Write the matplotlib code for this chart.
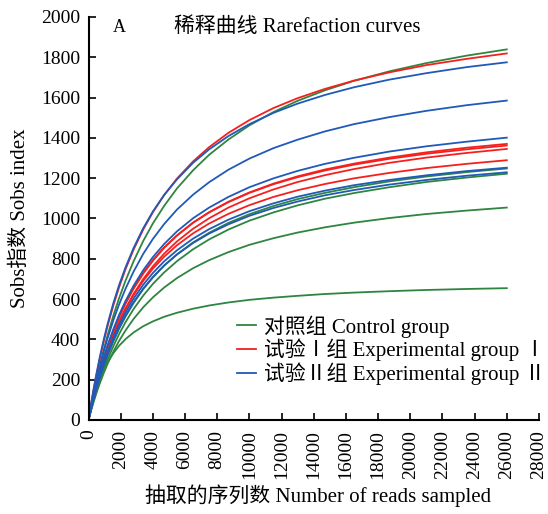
import matplotlib
matplotlib.use("Agg")
import matplotlib.pyplot as plt

plt.rcParams['font.family'] = ['Liberation Serif', 'Noto Sans CJK SC', 'DejaVu Sans']

# reads sampled (x) where curve values were read
reads = [0, 150, 300, 500, 700, 950, 1200, 1550, 1900, 2300, 2800, 3400, 4000, 4700,
         5500, 6500, 7500, 8700, 10000, 11500, 13000, 14700, 16500, 18700, 21000, 23500, 26000]

# control group (green)
control = [
    [0, 64, 124, 199, 269, 350, 424, 519, 604, 691, 787, 888, 975, 1062, 1149, 1239, 1316, 1392, 1462, 1528, 1584, 1636, 1683, 1730, 1771, 1808, 1839],
    [0, 50, 97, 154, 207, 267, 322, 391, 452, 513, 580, 649, 707, 766, 822, 881, 929, 978, 1021, 1062, 1096, 1127, 1155, 1184, 1208, 1230, 1248],
    [0, 46, 90, 143, 193, 250, 302, 367, 426, 485, 550, 617, 675, 732, 788, 847, 896, 945, 989, 1030, 1065, 1098, 1126, 1155, 1181, 1203, 1222],
    [0, 44, 85, 135, 181, 233, 281, 340, 392, 444, 501, 559, 608, 657, 704, 753, 793, 833, 869, 902, 930, 956, 979, 1002, 1022, 1039, 1054],
    [0, 56, 105, 158, 203, 250, 288, 332, 368, 401, 434, 465, 489, 512, 532, 552, 568, 583, 596, 607, 616, 625, 632, 639, 645, 650, 654],
]
# experimental group I (red)
group1 = [
    [0, 73, 141, 225, 302, 390, 470, 570, 658, 748, 845, 945, 1031, 1116, 1198, 1283, 1354, 1425, 1488, 1548, 1597, 1643, 1684, 1725, 1761, 1792, 1819],
    [0, 57, 110, 176, 235, 303, 365, 441, 509, 577, 651, 726, 790, 854, 915, 979, 1031, 1083, 1129, 1173, 1209, 1243, 1272, 1302, 1328, 1351, 1370],
    [0, 58, 112, 178, 238, 307, 369, 445, 513, 581, 655, 730, 793, 856, 916, 979, 1030, 1081, 1127, 1170, 1205, 1238, 1267, 1296, 1321, 1343, 1362],
    [0, 54, 104, 166, 223, 288, 347, 421, 487, 553, 625, 699, 762, 825, 886, 949, 1001, 1054, 1100, 1144, 1181, 1215, 1245, 1276, 1302, 1325, 1345],
    [0, 55, 106, 168, 226, 290, 349, 422, 486, 550, 619, 690, 751, 810, 867, 926, 975, 1023, 1066, 1107, 1140, 1171, 1199, 1226, 1250, 1271, 1289],
]
# experimental group II (blue)
group2 = [
    [0, 76, 146, 232, 311, 400, 480, 581, 669, 757, 853, 951, 1034, 1116, 1194, 1276, 1343, 1409, 1468, 1524, 1570, 1613, 1651, 1689, 1721, 1751, 1775],
    [0, 63, 123, 196, 263, 340, 409, 496, 573, 651, 736, 824, 898, 972, 1044, 1118, 1180, 1242, 1297, 1349, 1391, 1432, 1468, 1503, 1534, 1562, 1585],
    [0, 58, 113, 180, 241, 310, 373, 451, 521, 590, 666, 743, 808, 873, 936, 1001, 1054, 1107, 1155, 1199, 1236, 1271, 1301, 1332, 1358, 1381, 1401],
    [0, 53, 103, 164, 219, 282, 339, 409, 472, 534, 602, 671, 729, 787, 842, 900, 947, 994, 1036, 1075, 1108, 1138, 1165, 1191, 1214, 1235, 1252],
    [0, 51, 99, 158, 211, 272, 327, 396, 457, 518, 584, 652, 709, 766, 821, 878, 925, 971, 1013, 1052, 1084, 1115, 1141, 1168, 1191, 1212, 1229],
]

labels = ['对照组 Control group', '试验Ⅰ组 Experimental group Ⅰ', '试验Ⅱ组 Experimental group Ⅱ']
colors = ['#2e8540', '#f5201e', '#2059b8']

fig = plt.figure(figsize=(5.48, 5.14), dpi=100)
ax = fig.add_axes([0.1615, 0.183, 0.822, 0.784])

for grp, c, lab in zip([control, group1, group2], colors, labels):
    for i, ys in enumerate(grp):
        ax.plot(reads, ys, color=c, lw=1.3, label=lab if i == 0 else None)

ax.set_xlim(0, 28000)
ax.set_ylim(0, 2000)
ax.set_xticks(range(0, 28001, 2000))
ax.set_yticks(range(0, 2001, 200))
ax.tick_params(axis='x', direction='in', length=5, width=1.2, labelsize=14, labelrotation=90, pad=7)
ax.tick_params(axis='y', direction='in', length=5, width=1.2, labelsize=14, pad=6)
for s in ['top', 'right']:
    ax.spines[s].set_visible(False)
for s in ['left', 'bottom']:
    ax.spines[s].set_linewidth(1.5)

ax.text(0.055, 0.975, 'A', transform=ax.transAxes, fontsize=13, va='center', ha='left')
ax.text(0.19, 0.975, '稀释曲线 Rarefaction curves', transform=ax.transAxes, fontsize=15, va='center', ha='left')

ax.set_xlabel('抽取的序列数 Number of reads sampled', fontsize=15)
ax.set_ylabel('Sobs指数 Sobs index', fontsize=15)
ax.xaxis.set_label_coords(0.51, -0.16)
ax.yaxis.set_label_coords(-0.13, 0.5)

ax.legend(loc='upper left', bbox_to_anchor=(0.33, 0.26), frameon=False, fontsize=15,
          handlelength=0.9, handletextpad=0.4, labelspacing=0.05, borderaxespad=0, borderpad=0)

fig.savefig('out.png', dpi=100)
